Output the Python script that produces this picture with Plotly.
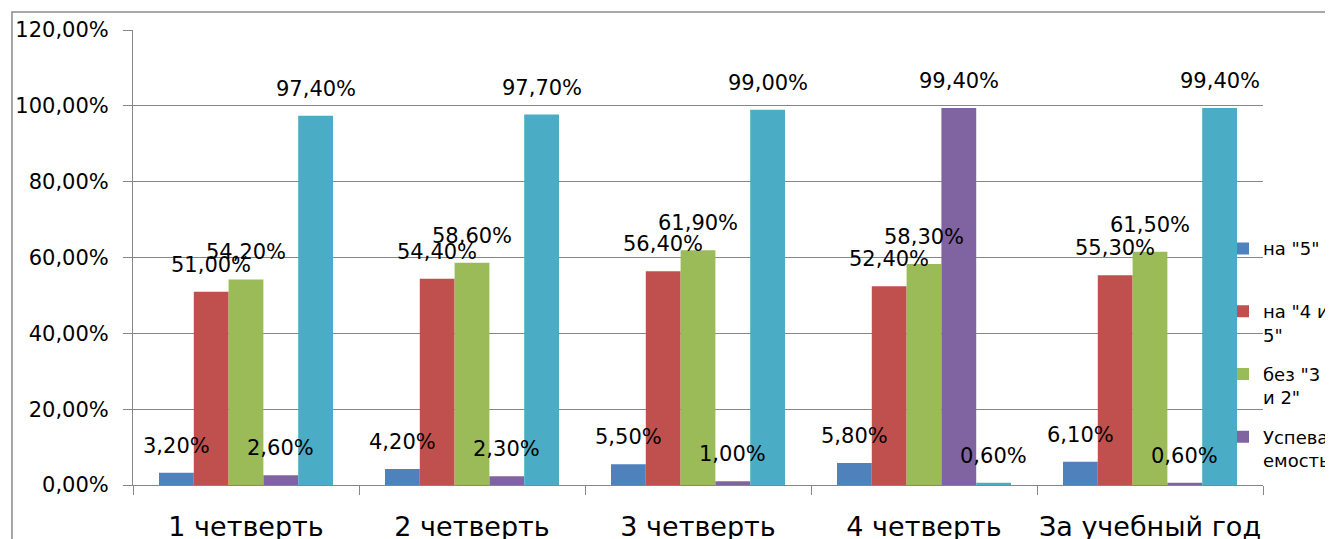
import plotly.graph_objects as go

categories = ["1 четверть", "2 четверть", "3 четверть", "4 четверть", "За учебный год"]
series_names = ['на "5"', 'на "4 и<br>5"', 'без "3<br>и 2"', 'Успева<br>емость', '']
na5 = [3.2, 4.2, 5.5, 5.8, 6.1]
na45 = [51.0, 54.4, 56.4, 52.4, 55.3]
bez32 = [54.2, 58.6, 61.9, 58.3, 61.5]
uspev = [2.6, 2.3, 1.0, 99.4, 0.6]
series5 = [97.4, 97.7, 99.0, 0.6, 99.4]
y_ticks = [0, 20, 40, 60, 80, 100, 120]

all_series = [na5, na45, bez32, uspev, series5]
colors = ["#4F81BD", "#C0504D", "#9BBB59", "#8064A2", "#4BACC6"]
FONT = "DejaVu Sans"
bargap = 0.23
n = len(all_series)


def pct(v):
    return f"{v:.2f}%".replace(".", ",")


fig = go.Figure()
for j, (vals, name, col) in enumerate(zip(all_series, series_names, colors)):
    fig.add_trace(go.Bar(
        x=categories, y=vals, name=(name + "<br>&nbsp;") if j == 0 else name,
        marker=dict(color=col, line=dict(width=0)),
        showlegend=(j < 4), legendgroup=f"g{j}",
    ))

# data labels
bw = (1 - bargap) / n
annotations = []
for j, vals in enumerate(all_series):
    off = -(1 - bargap) / 2 + (j + 0.5) * bw
    for i, v in enumerate(vals):
        annotations.append(dict(
            x=i + off, y=v, xref="x", yref="y",
            text=pct(v),
            showarrow=False, yanchor="bottom", yshift=13,
            font=dict(family=FONT, size=21, color="#000000"),
        ))

fig.update_layout(
    width=1325, height=531,
    margin=dict(l=125, r=70, t=22, b=54, autoexpand=False),
    paper_bgcolor="white", plot_bgcolor="white",
    barmode="group", bargap=bargap, bargroupgap=0,
    font=dict(family=FONT, color="#000000"),
    annotations=annotations,
    legend=dict(
        x=0.9646, xanchor="left", y=0.56, yanchor="top",
        font=dict(family=FONT, size=18, color="#000000"),
        bgcolor="rgba(0,0,0,0)", traceorder="grouped", tracegroupgap=13,
        valign="top", itemwidth=30,
    ),
    shapes=[dict(type="rect", xref="paper", yref="paper",
                 x0=-0.1071, x1=1.2, y0=-0.3, y1=1.0396,
                 line=dict(color="#8C8C8C", width=1.5), layer="below")],
)
fig.update_yaxes(
    range=[0, 120], tickmode="array", tickvals=y_ticks,
    ticktext=[pct(v) for v in y_ticks],
    showgrid=True, gridcolor="#868686", gridwidth=1,
    showline=True, linecolor="#868686", linewidth=1,
    ticks="outside", ticklen=9, tickcolor="#868686",
    tickfont=dict(family=FONT, size=21, color="#000000"),
    ticklabelstandoff=10, zeroline=False,
)
fig.update_xaxes(
    showline=True, linecolor="#868686", linewidth=1,
    ticks="outside", ticklen=9, tickcolor="#868686", tickson="boundaries",
    tickfont=dict(family=FONT, size=27, color="#000000"),
    ticklabelstandoff=18, showgrid=False, tickangle=0,
)

fig.write_html("out.html")
